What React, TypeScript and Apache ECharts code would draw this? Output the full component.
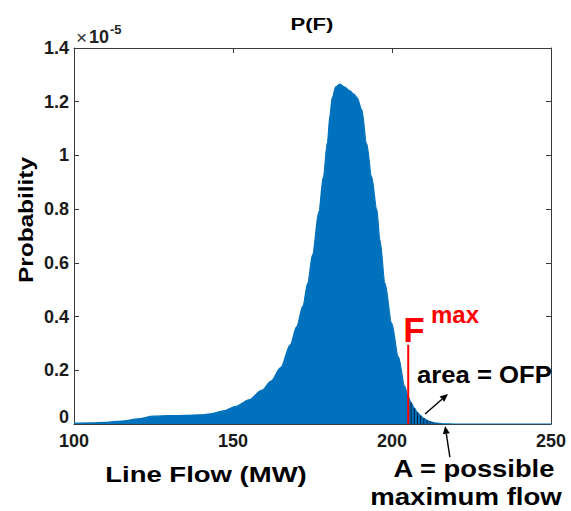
import React, { useEffect, useRef } from "react";
import * as echarts from "echarts";

// Line flow (MW) sample positions and probability values (in units of 1e-5)
const flowMW = [
  100, 105, 110, 115, 120, 125, 130, 135, 140, 143, 147, 151, 155, 159, 162, 165, 168, 170, 172, 173.5,
  175, 177, 178.4, 179.7, 180.5, 181.2, 182.3, 183.6, 185, 186.8, 188, 189, 190.5, 192, 193.6, 195.2,
  196.2, 197.8, 199.9, 202, 204, 205.1, 206, 207, 208, 209, 210, 211, 212, 213, 214, 216, 220, 250,
];
const probability = [
  0.003, 0.004, 0.006, 0.011, 0.019, 0.029, 0.031, 0.032, 0.034, 0.038, 0.049, 0.066, 0.09, 0.125, 0.16,
  0.21, 0.295, 0.362, 0.44, 0.525, 0.63, 0.79, 0.92, 1.05, 1.15, 1.215, 1.255, 1.266, 1.255, 1.24, 1.228,
  1.215, 1.17, 1.045, 0.92, 0.8, 0.685, 0.524, 0.375, 0.25, 0.14, 0.1, 0.08, 0.06, 0.043, 0.031, 0.021,
  0.014, 0.009, 0.005, 0.003, 0.001, 0, 0,
];

// F max marker
const fmaxMW = 205.1;
const fmaxTop = 0.295;
const hatchEndMW = 214;

// Axes
const xMin = 100;
const xMax = 250;
const xInterval = 50;
const yMin = 0;
const yMax = 1.4;
const yInterval = 0.2;

// Annotation arrows (data coordinates): [tail, head]
const arrowOFP = [
  [210.4, 0.037],
  [217.6, 0.112],
];
const arrowA = [
  [218.2, -0.123],
  [216.7, -0.007],
];

const BLUE = "#0072BD";
const AXIS = "#3a3a3a";
const FONT = "Arial, 'Liberation Sans', Helvetica, sans-serif";

export default function App() {
  const ref = useRef<HTMLDivElement>(null);

  useEffect(() => {
    const chart = echarts.init(ref.current!, null, { renderer: "svg" });
    const main = flowMW.map((x, i) => [x, probability[i]]);
    const hatch = main.filter((p) => p[0] > fmaxMW && p[0] <= hatchEndMW);

    const xBase = {
      type: "value",
      min: xMin,
      max: xMax,
      interval: xInterval,
      axisLine: { show: true, onZero: false, lineStyle: { color: AXIS, width: 1 } },
      axisTick: { show: true, inside: true, length: 5, lineStyle: { color: AXIS } },
      splitLine: { show: false },
    };
    const yBase = {
      type: "value",
      min: yMin,
      max: yMax,
      interval: yInterval,
      axisLine: { show: true, onZero: false, lineStyle: { color: AXIS, width: 1 } },
      axisTick: { show: true, inside: true, length: 5, lineStyle: { color: AXIS } },
      splitLine: { show: false },
    };
    const labelStyle = { color: "#1a1a1a", fontSize: 18, fontWeight: "bold", fontFamily: FONT };

    chart.setOption({
      animation: false,
      grid: { left: 74, right: 20, top: 48, bottom: 87 },
      xAxis: [
        { ...xBase, position: "bottom", axisLabel: { ...labelStyle, margin: 8 } },
        { ...xBase, position: "top", axisLabel: { show: false } },
      ],
      yAxis: [
        {
          ...yBase,
          position: "left",
          axisLabel: {
            ...labelStyle,
            margin: 5,
            formatter: (v: number) => (v === 0 ? "{z|0}" : "{n|" + String(+v.toFixed(1)) + "}"),
            rich: {
              z: { ...labelStyle, padding: [0, 0, 15, 0] },
              n: { ...labelStyle },
            },
          },
        },
        { ...yBase, position: "right", axisLabel: { show: false } },
      ],
      series: [
        {
          type: "line",
          data: main,
          xAxisIndex: 0,
          yAxisIndex: 0,
          showSymbol: false,
          smooth: 0.3,
          smoothMonotone: "x",
          lineStyle: { color: BLUE, width: 1.2 },
          areaStyle: { color: BLUE, opacity: 1 },
          z: 2,
        },
        {
          type: "bar",
          data: hatch,
          xAxisIndex: 0,
          yAxisIndex: 0,
          barWidth: 1,
          itemStyle: { color: "#0b1a33" },
          z: 3,
        },
        {
          type: "line",
          data: [
            [fmaxMW, 0],
            [fmaxMW, fmaxTop],
          ],
          xAxisIndex: 0,
          yAxisIndex: 0,
          showSymbol: false,
          lineStyle: { color: "#ff0000", width: 2 },
          z: 4,
        },
      ],
    });

    const px = (p: number[]) => chart.convertToPixel({ gridIndex: 0 }, p) as number[];
    const arrow = (pair: number[][]) => {
      const from = px(pair[0]);
      const to = px(pair[1]);
      const dx = to[0] - from[0];
      const dy = to[1] - from[1];
      const len = Math.hypot(dx, dy);
      const ux = dx / len;
      const uy = dy / len;
      const hl = 8;
      const hw = 3.5;
      const bx = to[0] - ux * hl;
      const by = to[1] - uy * hl;
      return [
        {
          type: "line",
          shape: { x1: from[0], y1: from[1], x2: bx, y2: by },
          style: { stroke: "#000", lineWidth: 1.4 },
          z: 10,
        },
        {
          type: "polygon",
          shape: {
            points: [
              [to[0], to[1]],
              [bx - uy * hw, by + ux * hw],
              [bx + uy * hw, by - ux * hw],
            ],
          },
          style: { fill: "#000" },
          z: 10,
        },
      ];
    };

    const txt = (
      text: string,
      x: number,
      y: number,
      size: number,
      opts: { align?: string; scaleX?: number; fill?: string; weight?: string; rotation?: number } = {}
    ) => ({
      type: "text",
      x,
      y,
      scaleX: opts.scaleX ?? 1,
      rotation: opts.rotation ?? 0,
      z: 10,
      style: {
        text,
        fontSize: size,
        fontWeight: opts.weight ?? "bold",
        fontFamily: FONT,
        fill: opts.fill ?? "#000",
        align: opts.align ?? "center",
        verticalAlign: "middle",
      },
    });

    chart.setOption({
      graphic: [
        txt("P(F)", 312, 24, 17, { scaleX: 1.3 }),
        txt("×", 76, 37, 19, { align: "left", weight: "normal", fill: "#333" }),
        txt("10", 89, 37, 18, { align: "left", fill: "#222" }),
        txt("-5", 110, 29, 13, { align: "left", fill: "#222" }),
        txt("Probability", 26, 220, 21, { scaleX: 1.16, rotation: Math.PI / 2 }),
        txt("Line Flow (MW)", 206, 474, 22, { scaleX: 1.25 }),
        txt("F", 414, 329, 35, { fill: "#ff0000" }),
        txt("max", 455, 314, 24, { fill: "#ff0000" }),
        txt("area = OFP", 417, 375, 24, { align: "left", scaleX: 1.07 }),
        txt("A = possible", 474, 469, 24, { scaleX: 1.14 }),
        txt("maximum flow", 466, 497, 23, { scaleX: 1.2 }),
        ...arrow(arrowOFP),
        ...arrow(arrowA),
      ],
    });

    return () => chart.dispose();
  }, []);

  return <div ref={ref} style={{ position: "absolute", left: 0, top: 0, width: 571, height: 511 }} />;
}
